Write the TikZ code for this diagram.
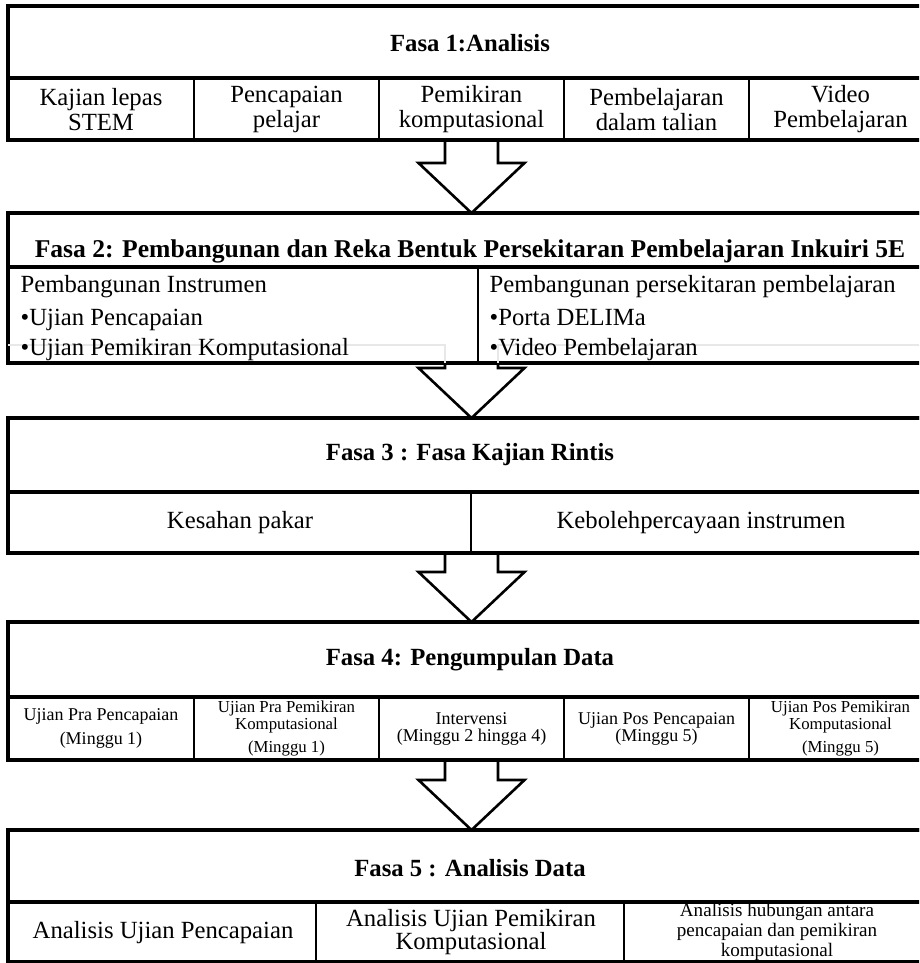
\documentclass[tikz,border=0pt]{standalone}
\usepackage{fontspec}
\setmainfont{Liberation Serif}
\usetikzlibrary{calc}

% type sizes used in the chart
\newcommand{\fmain}{\fontsize{24.7}{25}\selectfont}
\newcommand{\fhead}{\fontsize{24.7}{25}\selectfont\bfseries}
\newcommand{\fsml}{\fontsize{18}{17}\selectfont}
\newcommand{\ftny}{\fontsize{16.8}{17}\selectfont}
\newcommand{\fnote}{\fontsize{19.1}{20}\selectfont}

% hollow block arrow from the bottom of one phase box to the top of the next
\newcommand{\phasearrow}[2]{%
  \draw[arrowline] ($(#1.south)+(-25,0)$) -- ($(#2.north)+(-25,-50)$)
    -- ($(#2.north)+(-51.5,-50)$) -- ($(#2.north)+(1.5,0)$)
    -- ($(#2.north)+(54.5,-50)$) -- ($(#2.north)+(28,-50)$)
    -- ($(#1.south)+(28,0)$);}

\begin{document}
\begin{tikzpicture}[x=1pt,y=-1pt,
  frame/.style={draw=black,line width=3.3pt,inner sep=0pt,outer sep=0pt,
    anchor=north west,minimum width=924pt},
  rule/.style={line width=3.3pt},
  colrule/.style={line width=2.6pt},
  arrowline/.style={draw=black,line width=2.6pt,line join=miter},
  hdr/.style={inner sep=0pt,font=\fhead},
  txt/.style={inner sep=0pt,align=center,font=\fmain},
  lft/.style={inner sep=0pt,anchor=base west,font=\fmain},
  sml/.style={inner sep=0pt,align=center,font=\fsml},
  tny/.style={inner sep=0pt,align=center,font=\ftny},
  note/.style={inner sep=0pt,align=center,font=\fnote}]

\useasboundingbox (0,0) rectangle (919,963);
\clip (0,0) rectangle (919,963);
\fill[white] (0,0) rectangle (919,963);

% phase frames
\node[frame,minimum height=134pt] (b1) at (8,6) {};
\node[frame,minimum height=150pt] (b2) at (8,213) {};
\node[frame,minimum height=135pt] (b3) at (8,418) {};
\node[frame,minimum height=138pt] (b4) at (8,622) {};
\node[frame,minimum height=132pt] (b5) at (8,830) {};

% arrows between phases
\phasearrow{b1}{b2}
\phasearrow{b2}{b3}
\phasearrow{b3}{b4}
\phasearrow{b4}{b5}

% redraw frames above the arrow tips
\draw[rule] (b2.north west) -- (b2.north east);
\draw[rule] (b3.north west) -- (b3.north east);
\draw[rule] (b4.north west) -- (b4.north east);
\draw[rule] (b5.north west) -- (b5.north east);

% ---- Fasa 1
\draw[rule] (8,78) -- (932,78);
\foreach \cx in {194,379,564,749} \draw[colrule] (\cx,78) -- (\cx,140);
\node[hdr] (h1) at (470,43) {Fasa 1:Analisis};
\node[txt] (c11) at (101,109.5) {Kajian lepas\\STEM};
\node[txt] (c12) at (286.5,109.5) {Pencapaian\\pelajar};
\node[txt] (c13) at (471.5,109.5) {Pemikiran\\komputasional};
\node[txt] (c14) at (656.5,109.5) {Pembelajaran\\dalam talian};
\node[txt] (c15) at (840.5,109.5) {Video\\Pembelajaran};

% ---- Fasa 2
\draw[gray!18,line width=1.2pt] (8,345) -- (445,345) -- (445,363);
\draw[gray!18,line width=1.2pt] (498,363) -- (498,345) -- (932,345);
\draw[rule] (8,267) -- (932,267);
\draw[colrule] (478,267) -- (478,363);
\node[hdr,font=\fontsize{25.6}{25}\selectfont\bfseries] (h2) at (470,251)
  {Fasa 2: Pembangunan dan Reka Bentuk Persekitaran Pembelajaran Inkuiri 5E};
\node[lft] (c21) at (20.5,292) {Pembangunan Instrumen};
\node[lft] (c22) at (20.5,325) {•Ujian Pencapaian};
\node[lft] (c23) at (20.5,355) {•Ujian Pemikiran Komputasional};
\node[lft] (c24) at (489.5,292) {Pembangunan persekitaran pembelajaran};
\node[lft] (c25) at (489.5,325) {•Porta DELIMa};
\node[lft] (c26) at (489.5,355) {•Video Pembelajaran};

% ---- Fasa 3
\draw[rule] (8,492) -- (932,492);
\draw[colrule] (471,492) -- (471,553);
\node[hdr] (h3) at (470,455) {Fasa 3 : Fasa Kajian Rintis};
\node[txt] (c31) at (240,523) {Kesahan pakar};
\node[txt] (c32) at (701,523) {Kebolehpercayaan instrumen};

% ---- Fasa 4
\draw[rule] (8,697) -- (932,697);
\foreach \cx in {194,379,564,749} \draw[colrule] (\cx,697) -- (\cx,760);
\node[hdr] (h4) at (470,660) {Fasa 4: Pengumpulan Data};
\node[sml] (c41) at (101,728.5) {Ujian Pra Pencapaian\\[7pt](Minggu 1)};
\node[tny] (c42) at (286.5,728.5) {Ujian Pra Pemikiran\\Komputasional\\[6pt](Minggu 1)};
\node[sml] (c43) at (471.5,728.5) {Intervensi\\(Minggu 2 hingga 4)};
\node[sml] (c44) at (656.5,728.5) {Ujian Pos Pencapaian\\(Minggu 5)};
\node[tny] (c45) at (840.5,728.5) {Ujian Pos Pemikiran\\Komputasional\\[6pt](Minggu 5)};

% ---- Fasa 5
\draw[rule] (8,902) -- (932,902);
\foreach \cx in {316,624} \draw[colrule] (\cx,902) -- (\cx,963);
\node[hdr] (h5) at (470,868) {Fasa 5 : Analisis Data};
\node[txt] (c51) at (163,933) {Analisis Ujian Pencapaian};
\node[txt,font=\fontsize{24.7}{23}\selectfont] (c52) at (471,932) {Analisis Ujian Pemikiran\\Komputasional};
\node[note] (c53) at (777,932) {Analisis hubungan antara\\pencapaian dan pemikiran\\komputasional};

\end{tikzpicture}
\end{document}
